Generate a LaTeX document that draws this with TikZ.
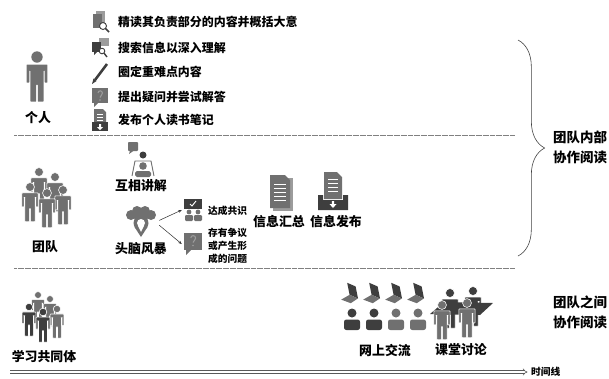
\documentclass[tikz,border=0pt]{standalone}
\usepackage{fontspec}
\setmainfont{Noto Sans CJK SC}
\usetikzlibrary{positioning,arrows.meta,decorations.pathreplacing}

\definecolor{icongray}{HTML}{707070}
\definecolor{icondark}{HTML}{3E3E3E}
\definecolor{iconlight}{HTML}{9C9C9C}

\tikzset{
  % standing figure: head centre at the origin, feet 47 units below (times #1)
  person/.pic={
    \path[pic actions, scale=#1] (0,0) circle (6)
      [rounded corners=0.5pt] (-11,8) -- (11,8) -- (11,27) -- (8,27) -- (8,14)
      -- (7,14) -- (7,47) -- (0.8,47) -- (0.8,29) -- (-0.8,29) -- (-0.8,47)
      -- (-7,47) -- (-7,14) -- (-8,14) -- (-8,27) -- (-11,27) -- cycle;
  },
  bust/.pic={
    \path[pic actions] (0,0) circle (4.5)
      [rounded corners=2pt] (-8,17) -- (-8,6.5) -- (8,6.5) -- (8,17) -- cycle;
  },
  laptop/.pic={
    \fill[icondark] (-4,-11) -- (3,-8) -- (5,2) -- (-2,-1) -- cycle;
    \fill[icongray] (-2,-1) -- (5,2) -- (-1,6) -- (-9,3) -- cycle;
  },
  %% small icons of the reading steps
  docsearch/.pic={
    \fill[iconlight] (-4,-11) rectangle (5,3);
    \fill[icongray] (-7,-8) rectangle (2,6);
    \draw[icondark, line width=0.8pt, fill=white] (3,4) circle (3.5);
    \draw[icondark, line width=1.4pt] (5.6,6.6) -- (9,10);
  },
  chatsearch/.pic={
    \fill[iconlight] (-1,-10) rectangle (9,-2);
    \fill[icondark] (-8,-6) rectangle (1,4);
    \fill[icondark] (-6,4) -- (-6,7) -- (-3,4) -- cycle;
    \draw[icondark, line width=0.8pt, fill=white] (2,3) circle (2.8);
    \draw[icondark, line width=1.2pt] (4,5) -- (7,9);
  },
  pencil/.pic={
    \draw[icondark, line width=2.2pt] (-5,7) -- (7,-9);
    \fill[icondark] (-8,11) -- (-6.5,5.5) -- (-3.5,8) -- cycle;
  },
  askbox/.pic={
    \fill[icongray] (-8,-9) rectangle (8,6);
    \fill[icongray] (-6,6) -- (-6,10) -- (-2,6) -- cycle;
    \draw[iconlight, line width=0.9pt] (-2,-4) arc (180:405:2.2) -- (0,0.5);
    \fill[iconlight] (0,3) circle (0.9);
  },
  notetray/.pic={
    \fill[icongray] (-6,-11) -- (3,-11) -- (6,-8) -- (6,4) -- (-6,4) -- cycle;
    \draw[white, line width=0.5pt] (-3,-6) -- (3,-6) (-3,-3) -- (3,-3) (-3,0) -- (3,0);
    \fill[icondark] (-8,2) rectangle (8,11);
    \fill[white] (-1,4) rectangle (1,7) (-3,7) -- (3,7) -- (0,10) -- cycle;
  },
  %% team icons
  teacher/.pic={
    \fill[icongray, rounded corners=0.8pt] (-13,-18) rectangle (-3,-9);
    \fill[icongray] (-11,-9.5) -- (-12,-6) -- (-7,-9.5) -- cycle;
    \fill[icondark] (2,-5) circle (3.5);
    \draw[icongray, line width=0.8pt] (-9,16) -- (-6,1) -- (10,1) -- (13,16);
    \fill[icongray] (2,6) circle (3.8);
    \fill[icongray, rounded corners=1.5pt] (-6,17) rectangle (10,11);
  },
  storm/.pic={
    \fill[icongray] (-10,-7) circle (5) (-4,-11) circle (5) (4,-11) circle (5)
      (10,-7) circle (5) (0,-6) circle (7);
    \fill[icongray] (0,1) circle (7.5);
    \fill[icongray] (-6.5,5) -- (0,15) -- (6.5,5) -- cycle;
    \fill[white] (0,1) circle (4);
    \fill[white] (-3.2,3.5) -- (0,10) -- (3.2,3.5) -- cycle;
  },
  agree/.pic={
    \fill[icondark] (-9,-11) rectangle (9,-1);
    \draw[white, line width=0.8pt] (-3,-6) -- (-1,-4) -- (3,-9);
    \fill[icongray] (-4,2) circle (2.4) (5,2) circle (2.4);
    \fill[icongray, rounded corners=1pt] (-8,11) rectangle (0,5) (1,11) rectangle (9,5);
  },
  dispute/.pic={
    \fill[icongray] (-9,-11) rectangle (9,6);
    \fill[icongray] (-7,6) -- (-7,11) -- (-2,6) -- cycle;
    \draw[iconlight, line width=0.9pt] (-2.2,-6) arc (180:405:2.4) -- (0,-1.5);
    \fill[iconlight] (0,1.5) circle (0.9);
  },
  docstack/.pic={
    \fill[iconlight] (-8,-14) rectangle (12,19);
    \fill[icongray] (-11,-17) -- (4,-17) -- (9,-12) -- (9,16) -- (-11,16) -- cycle;
    \draw[white, line width=0.6pt] (-7,-8) -- (5,-8) (-7,-4) -- (5,-4) (-7,0) -- (5,0)
      (-7,4) -- (5,4) (-7,8) -- (5,8);
  },
  pubtray/.pic={
    \fill[icongray] (-9,-19) -- (4,-19) -- (9,-14) -- (9,8) -- (-9,8) -- cycle;
    \draw[white, line width=0.6pt] (-5,-12) -- (5,-12) (-5,-8) -- (5,-8) (-5,-4) -- (5,-4)
      (-5,0) -- (5,0);
    \fill[icondark] (-15,4) -- (-10,4) -- (-10,9) -- (10,9) -- (10,4) -- (15,4)
      -- (15,19) -- (-15,19) -- cycle;
    \fill[white] (-1.2,10) rectangle (1.2,13) (-3.5,13) -- (3.5,13) -- (0,17) -- cycle;
  },
}

\begin{document}
\begin{tikzpicture}[
  x=0.03cm, y=-0.03cm,
  txt/.style={font=\fontsize{10.2}{12}\selectfont\bfseries, inner sep=0pt},
  label/.style={font=\fontsize{11}{13}\selectfont\bfseries, inner sep=0pt},
  smalltxt/.style={font=\fontsize{8.3}{11}\selectfont\bfseries, inner sep=0pt, align=left},
  sidetxt/.style={font=\fontsize{11.5}{17}\selectfont\bfseries, inner sep=0pt, align=left},
  divider/.style={gray, dash pattern=on 0.4pt off 0.6pt, line width=0.6pt},
  arr/.style={-{Stealth[length=3pt,width=2.4pt]}, line width=0.45pt, black!80},
  iconbox/.style={minimum size=#1, inner sep=0pt},
  crowd/.style={fill=#1, draw=white, line width=0.5pt},
  timearrow/.style={draw=gray!70!black, line width=0.5pt, double=white,
                    double distance=1.6pt, -{Implies}, shorten >=3pt},
]
\useasboundingbox (0,0) rectangle (609,378);

%% ===== INDIVIDUAL =====
\pic[fill=icongray] at (37,57) {person=0.95};
\node[label] (indiv) at (38,118) {个人};

\pic at (100,22) {docsearch};
\pic at (100,48) {chatsearch};
\pic at (100,73) {pencil};
\pic at (100,97) {askbox};
\pic at (100,120) {notetray};

\node[txt, anchor=west] (read)   at (118,22)  {精读其负责部分的内容并概括大意};
\node[txt, anchor=west] (search) at (118,48)  {搜索信息以深入理解};
\node[txt, anchor=west] (mark)   at (118,72)  {圈定重难点内容};
\node[txt, anchor=west] (ask)    at (118,97)  {提出疑问并尝试解答};
\node[txt, anchor=west] (note)   at (118,120) {发布个人读书笔记};

\draw[divider] (14,135) -- (515,135);

%% ===== TEAM =====
\pic[crowd=icongray] at (39,172) {person=0.74};
\pic[crowd=icongray] at (55,177) {person=0.74};
\pic[crowd=icongray] at (30,187) {person=0.74};
\pic[crowd=icongray] at (63,190) {person=0.74};
\pic[crowd=icongray] at (47,193) {person=0.74};
\node[label] (team) at (45,247) {团队};

\pic at (141,160) {teacher};
\node[label] (explain) at (141,186) {互相讲解};

\node[iconbox=1.08cm] (bulb) at (141,222) {};
\pic at (bulb) {storm};
\node[label] (storm) at (141,249) {头脑风暴};

\node[iconbox=0.66cm] (agreeicon) at (193,210) {};
\pic at (agreeicon) {agree};
\node[iconbox=0.66cm] (disputeicon) at (193,244) {};
\pic at (disputeicon) {dispute};
\node[smalltxt, anchor=west] (agree) at (208,211) {达成共识};
\node[smalltxt, anchor=west] (dispute) at (208,246) {存有争议\\或产生形\\成的问题};

\draw[arr] (bulb.5) -- (agreeicon.west);
\draw[arr] (bulb.-10) -- (disputeicon.west);

\pic at (281,192) {docstack};
\node[label] (gather) at (279,222) {信息汇总};
\pic at (333,191) {pubtray};
\node[label] (publish) at (336,222) {信息发布};

\draw[divider] (14,268) -- (515,268);

\draw[decorate, decoration={brace, amplitude=0.8cm}, line width=0.5pt, black!75]
  (518,40) -- (518,256);
\node[sidetxt, anchor=west] (inner) at (553,147) {团队内部\\协作阅读};

%% ===== COMMUNITY =====
\pic[crowd=icongray] at (38,295) {person=0.58};
\pic[crowd=icongray] at (50,299) {person=0.58};
\pic[crowd=icondark] at (29,307) {person=0.62};
\pic[crowd=icongray] at (57,309) {person=0.62};
\pic[crowd=icondark] at (43,312) {person=0.64};
\node[label] (community) at (44,357) {学习共同体};

\foreach \x/\c in {352/icondark, 374/icondark, 396/icongray, 418/icongray} {
  \pic[scale=1.2] at (\x,296) {laptop};
  \pic[fill=\c] at (\x,313) {bust};
}
\node[label] (online) at (385,350) {网上交流};

\pic[crowd=icondark] at (450,293) {person=0.75};
\pic[crowd=icondark] at (473,291) {person=0.75};
\fill[icondark] (430,314) -- (444,302) -- (493,303) -- (480,315) -- cycle;
\pic[crowd=icongray] at (442,305) {person=0.74};
\pic[crowd=icongray] at (467,303) {person=0.74};
\node[label] (classroom) at (461,350) {课堂讨论};

\node[sidetxt, anchor=west] (between) at (553,312) {团队之间\\协作阅读};

%% ===== TIME LINE =====
\coordinate (tstart) at (10,372);
\node[smalltxt, anchor=west] (timeline) at (531,372) {时间线};
\draw[timearrow] (tstart) -- (timeline.west);

\end{tikzpicture}
\end{document}
